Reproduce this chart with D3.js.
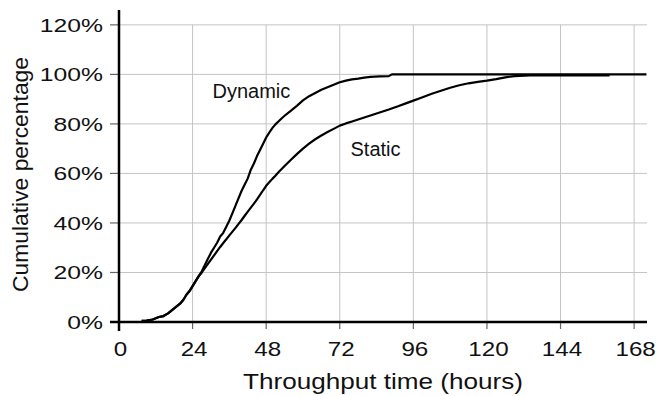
<!DOCTYPE html>
<html><head><meta charset="utf-8">
<script src="https://cdn.jsdelivr.net/npm/d3@7"></script>
<style>
html,body{margin:0;padding:0;background:#fff;}
svg{display:block;font-family:"Liberation Sans",Arial,sans-serif;}
</style></head>
<body>
<script>
// ---- data ----
const xTicks = [0, 24, 48, 72, 96, 120, 144, 168];
const yTicks = [0, 20, 40, 60, 80, 100, 120];
const xTitle = "Throughput time (hours)";
const yTitle = "Cumulative percentage";
const seriesNames = ["Dynamic", "Static"];

const dynHours = [7.4, 9, 11, 12, 13, 14.5, 16, 17, 18.5, 20, 21, 22, 23, 24, 25, 26, 27,
  28, 29, 30, 31, 32, 33, 34, 35, 36, 37, 38, 39, 40, 41, 42, 43, 44, 45, 46, 47, 48, 49, 50, 51,
  52, 53, 54, 56, 58, 60, 62, 64, 66, 68, 70, 72, 74, 76, 78, 80, 82, 85, 88, 89, 172];
const dynPct = [0.5, 0.6, 1.0, 1.5, 2.0, 2.4, 3.5, 4.5, 6, 7.5, 9, 11, 12.5, 14.5, 16.5, 18.5, 20.5,
  23, 25.5, 28, 30, 32, 34.5, 36, 38.5, 41, 44, 47, 50, 53, 55.5, 58, 61.5, 64, 67, 69.5, 72, 74.5, 76.5, 78.3, 79.8,
  81, 82.2, 83.3, 85.3, 87.3, 89.5, 91.2, 92.5, 93.8, 94.8, 95.8, 96.8, 97.5, 98, 98.3, 98.7, 99, 99.2, 99.3, 100, 100];

const staHours = [7.4, 9, 11, 12, 13, 14.5, 16, 17, 18.5, 20, 21, 22, 23, 24, 25, 26, 27,
  28, 29, 30, 31, 32, 33, 34, 35, 36, 37, 38, 39, 40, 41, 42, 43, 44, 45, 46, 47, 48, 49, 50, 51,
  52, 54, 56, 58, 60, 62, 64, 66, 68, 70, 72, 74, 76, 78, 80, 82, 85, 88, 91, 94, 96, 99, 102, 105,
  108, 111, 114, 117, 120, 123, 126, 129, 134, 160];
const staPct = [0.5, 0.6, 1.0, 1.5, 2.0, 2.4, 3.5, 4.5, 6, 7.5, 9, 11, 12.5, 14.5, 16.5, 18.5, 20,
  21.8, 23.5, 25.2, 26.9, 28.6, 30.3, 31.9, 33.4, 35, 36.5, 38, 39.6, 41.2, 42.9, 44.6, 46.2, 47.8, 49.5, 51.3, 53.2, 55, 56.4, 57.8, 59.1,
  60.5, 63, 65.4, 67.8, 70, 72, 73.8, 75.3, 76.7, 78, 79.3, 80.2, 81, 81.8, 82.6, 83.4, 84.6, 85.8, 87.1, 88.5, 89.4, 90.8, 92.2, 93.4,
  94.6, 95.6, 96.4, 97, 97.5, 98.1, 98.8, 99.3, 99.6, 99.6];

// ---- layout ----
const W = 660, H = 396;
const x = d3.scaleLinear().domain([0, 172.2]).range([119, 647]);
const y = d3.scaleLinear().domain([0, 126]).range([322, 10]);

const svg = d3.select("body").append("svg").attr("width", W).attr("height", H);

function stretch(sel, factor) {
  sel.each(function () {
    const w = this.getComputedTextLength();
    d3.select(this).attr("textLength", w * factor).attr("lengthAdjust", "spacingAndGlyphs");
  });
}

// gridlines
const grid = svg.append("g");
grid.selectAll("line.h").data(yTicks.filter(d => d > 0)).join("line")
  .attr("x1", x(0)).attr("x2", 647).attr("y1", d => y(d)).attr("y2", d => y(d))
  .attr("stroke", "#c4c4c4").attr("stroke-width", 1);
grid.selectAll("line.v").data(xTicks.filter(d => d > 0)).join("line")
  .attr("x1", d => x(d)).attr("x2", d => x(d)).attr("y1", y(120)).attr("y2", y(0))
  .attr("stroke", "#c4c4c4").attr("stroke-width", 1);

// ticks
const ticks = svg.append("g");
ticks.selectAll("line.yt").data(yTicks).join("line")
  .attr("x1", x(0) - 9).attr("x2", x(0)).attr("y1", d => y(d)).attr("y2", d => y(d))
  .attr("stroke", "#666").attr("stroke-width", 1.2);
ticks.selectAll("line.xt").data(xTicks).join("line")
  .attr("x1", d => x(d)).attr("x2", d => x(d)).attr("y1", y(0)).attr("y2", y(0) + 7)
  .attr("stroke", "#666").attr("stroke-width", 1.2);

// curves
const line = d3.line().x(d => x(d[0])).y(d => y(d[1])).curve(d3.curveLinear);
const dynData = dynHours.map((h, i) => [h, dynPct[i]]);
const staData = staHours.map((h, i) => [h, staPct[i]]);
svg.append("path").datum(staData).attr("d", line)
  .attr("fill", "none").attr("stroke", "#000").attr("stroke-width", 2.2).attr("stroke-linejoin", "round");
svg.append("path").datum(dynData).attr("d", line)
  .attr("fill", "none").attr("stroke", "#000").attr("stroke-width", 2.2).attr("stroke-linejoin", "round");

// axes lines
svg.append("line").attr("x1", x(0)).attr("x2", x(0)).attr("y1", 10).attr("y2", y(0) + 9)
  .attr("stroke", "#000").attr("stroke-width", 2.5);
svg.append("line").attr("x1", x(0) - 9).attr("x2", 647).attr("y1", y(0)).attr("y2", y(0))
  .attr("stroke", "#000").attr("stroke-width", 2.5);

// tick labels
svg.append("g").selectAll("text").data(yTicks).join("text")
  .attr("x", 103).attr("y", d => y(d) + 6.8)
  .attr("text-anchor", "end").attr("font-size", 19).attr("fill", "#111")
  .text(d => d + "%").call(stretch, 1.3);
svg.append("g").selectAll("text").data(xTicks).join("text")
  .attr("x", d => x(d) + 1.5).attr("y", 356)
  .attr("text-anchor", "middle").attr("font-size", 21).attr("fill", "#111")
  .text(d => d).call(stretch, 1.15);

// axis titles
svg.append("text").attr("x", 383).attr("y", 389).attr("text-anchor", "middle")
  .attr("font-size", 22).attr("fill", "#111").text(xTitle)
  .attr("textLength", 280).attr("lengthAdjust", "spacingAndGlyphs");
svg.append("text").attr("transform", "translate(28,174.5) rotate(-90)")
  .attr("text-anchor", "middle").attr("font-size", 22).attr("fill", "#111").text(yTitle)
  .attr("textLength", 235).attr("lengthAdjust", "spacingAndGlyphs");

// series labels
svg.append("text").attr("x", 212.5).attr("y", 98.3).attr("font-size", 20).attr("fill", "#111").text(seriesNames[0]);
svg.append("text").attr("x", 350.5).attr("y", 155.7).attr("font-size", 20).attr("fill", "#111").text(seriesNames[1]);
</script>
</body></html>
